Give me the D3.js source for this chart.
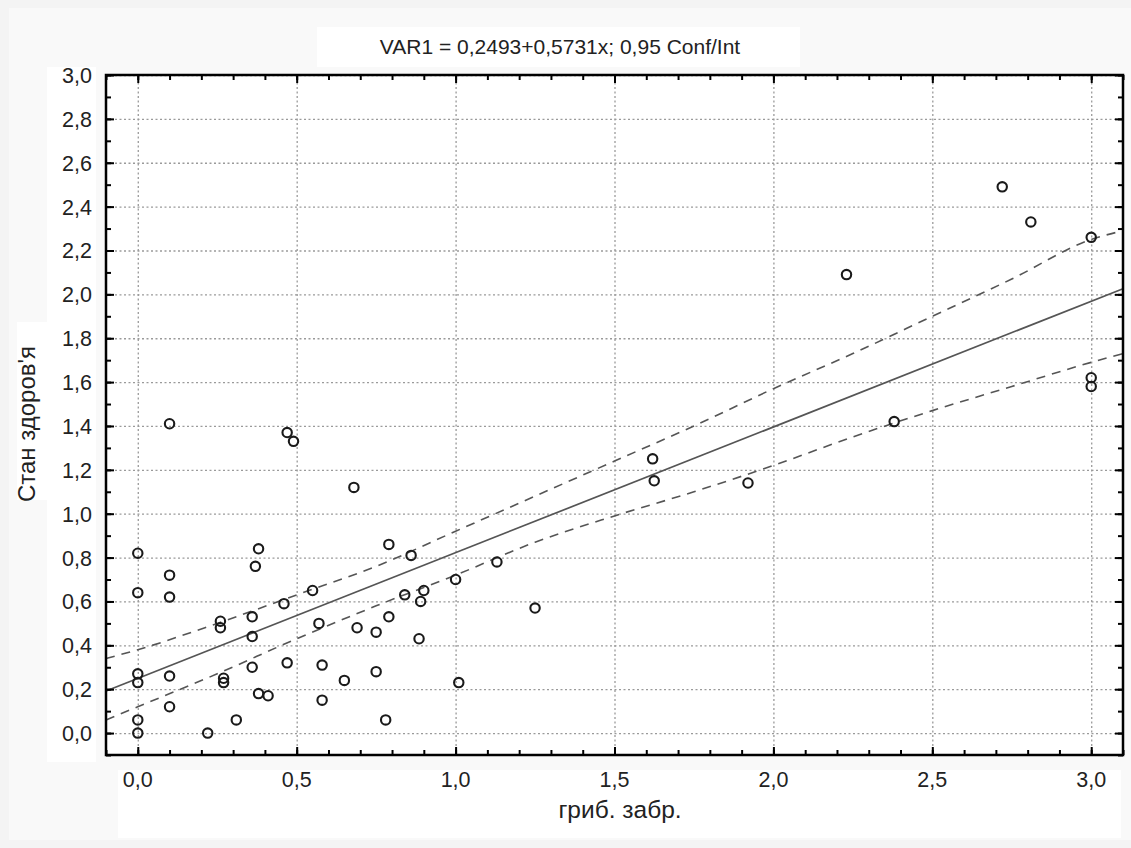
<!DOCTYPE html>
<html>
<head>
<meta charset="utf-8">
<script src="https://cdn.jsdelivr.net/npm/d3@7"></script>
<style>
  body { margin: 0; background: #f6f6f6; }
  svg { display: block; font-family: "Liberation Sans", Arial, sans-serif; }
</style>
</head>
<body>
<svg id="chart" width="1131" height="848"></svg>
<script>
// observed points (гриб. забр. / Стан здоров'я)
const xVals = [0, 0, 0, 0, 0, 0,
    0.1, 0.1, 0.1, 0.1, 0.1,
    0.22, 0.26, 0.26, 0.27, 0.27, 0.31,
    0.36, 0.36, 0.36, 0.37, 0.38, 0.38, 0.41,
    0.46, 0.47, 0.47, 0.49, 0.55, 0.57, 0.58, 0.58,
    0.65, 0.68, 0.69, 0.75, 0.75, 0.78, 0.79, 0.79,
    0.84, 0.86, 0.89, 0.9, 0.885, 1.0, 1.01, 1.13, 1.25,
    1.62, 1.625, 1.92, 2.23, 2.38, 2.72, 2.81, 3.0, 3.0, 3.0];
const yVals = [0.82, 0.64, 0.27, 0.23, 0.06, 0.0,
    1.41, 0.72, 0.62, 0.26, 0.12,
    0.0, 0.51, 0.48, 0.25, 0.23, 0.06,
    0.53, 0.44, 0.30, 0.76, 0.84, 0.18, 0.17,
    0.59, 0.32, 1.37, 1.33, 0.65, 0.50, 0.31, 0.15,
    0.24, 1.12, 0.48, 0.46, 0.28, 0.06, 0.86, 0.53,
    0.63, 0.81, 0.60, 0.65, 0.43, 0.70, 0.23, 0.78, 0.57,
    1.25, 1.15, 1.14, 2.09, 1.42, 2.49, 2.33, 2.26, 1.62, 1.58];

// regression VAR1 = 0,2493 + 0,5731x
const intercept = 0.2493;
const slope = 0.5731;

// 0,95 confidence band
const bandX     = [-0.1, 0, 0.25, 0.5, 0.75, 1.0, 1.25, 1.5, 1.75, 2.0, 2.25, 2.5, 2.75, 3.0, 3.1];
const bandUpper = [0.34, 0.38, 0.50, 0.63, 0.76, 0.92, 1.08, 1.24, 1.40, 1.57, 1.73, 1.90, 2.07, 2.25, 2.29];
const bandLower = [0.06, 0.12, 0.27, 0.43, 0.58, 0.72, 0.87, 0.99, 1.10, 1.22, 1.35, 1.47, 1.58, 1.69, 1.73];

const xTicks = [0, 0.5, 1.0, 1.5, 2.0, 2.5, 3.0];
const yTicks = [0, 0.2, 0.4, 0.6, 0.8, 1.0, 1.2, 1.4, 1.6, 1.8, 2.0, 2.2, 2.4, 2.6, 2.8, 3.0];
const xMinor = d3.range(-0.1, 3.11, 0.1);
const yMinor = d3.range(-0.1, 3.01, 0.1);

const title = "VAR1 = 0,2493+0,5731x; 0,95 Conf/Int";
const xLabel = "гриб. забр.";
const yLabel = "Стан здоров'я";

const plotLeft = 106, plotRight = 1123, plotTop = 75, plotBottom = 755;
const w = plotRight - plotLeft, h = plotBottom - plotTop;

const locale = d3.formatLocale({decimal: ",", thousands: " ", grouping: [3], currency: ["", ""]});
const fmt = locale.format(".1f");

const svg = d3.select("#chart");

// scanned page background patches
svg.append("rect").attr("x", 0).attr("y", 0).attr("width", 1131).attr("height", 848).attr("fill", "#f4f4f4");
svg.append("rect").attr("x", 9).attr("y", 8).attr("width", 1122).attr("height", 832).attr("fill", "#f9f9f9");
svg.append("rect").attr("x", 317).attr("y", 27).attr("width", 483).attr("height", 40).attr("fill", "#fff");
svg.append("rect").attr("x", 47).attr("y", 67).attr("width", 49).attr("height", 695).attr("fill", "#fff");
svg.append("rect").attr("x", 17).attr("y", 322).attr("width", 30).attr("height", 178).attr("fill", "#fff");
svg.append("rect").attr("x", 118).attr("y", 770).attr("width", 1003).attr("height", 68).attr("fill", "#fff");

const x = d3.scaleLinear().domain([-0.1, 3.1]).range([plotLeft, plotRight]);
const y = d3.scaleLinear().domain([-0.1, 3.0]).range([plotBottom, plotTop]);

const g = svg.append("g");
g.append("rect").attr("x", plotLeft).attr("y", plotTop).attr("width", w).attr("height", h).attr("fill", "#fff");

// grid
g.append("g").attr("transform", `translate(0,${plotBottom})`)
    .call(d3.axisBottom(x).tickValues(xTicks).tickSize(-h).tickFormat(""))
    .call(a => a.select(".domain").remove())
    .selectAll("line").attr("stroke", "#9a9a9a").attr("stroke-width", 1.3).attr("stroke-dasharray", "2,2.5");
g.append("g").attr("transform", `translate(${plotLeft},0)`)
    .call(d3.axisLeft(y).tickValues(yTicks).tickSize(-w).tickFormat(""))
    .call(a => a.select(".domain").remove())
    .selectAll("line").attr("stroke", "#9a9a9a").attr("stroke-width", 1.3).attr("stroke-dasharray", "2,2.5");

// confidence band and fit
const bandLine = d3.line().x(d => x(d[0])).y(d => y(d[1])).curve(d3.curveMonotoneX);
const upperPts = bandX.map((v, i) => [v, bandUpper[i]]);
const lowerPts = bandX.map((v, i) => [v, bandLower[i]]);
[upperPts, lowerPts].forEach(pts => {
    g.append("path")
        .attr("d", bandLine(pts))
        .attr("fill", "none")
        .attr("stroke", "#555")
        .attr("stroke-width", 1.6)
        .attr("stroke-dasharray", "9,7");
});
g.append("line")
    .attr("x1", x(-0.1)).attr("y1", y(intercept + slope * -0.1))
    .attr("x2", x(3.1)).attr("y2", y(intercept + slope * 3.1))
    .attr("stroke", "#555").attr("stroke-width", 1.7);

// points
g.selectAll("circle.pt").data(xVals).enter().append("circle")
    .attr("class", "pt")
    .attr("cx", d => x(d))
    .attr("cy", (d, i) => y(yVals[i]))
    .attr("r", 4.7)
    .attr("fill", "none")
    .attr("stroke", "#1a1a1a")
    .attr("stroke-width", 2.1);

// inward ticks on all four sides
function ticks(axis, transform, vals, size) {
    g.append("g").attr("transform", transform)
        .call(axis.tickValues(vals).tickSize(size).tickFormat(""))
        .call(a => a.select(".domain").remove())
        .selectAll("line").attr("stroke", "#000").attr("stroke-width", 2);
}
ticks(d3.axisBottom(x), `translate(0,${plotBottom})`, xMinor, -5);
ticks(d3.axisTop(x), `translate(0,${plotTop})`, xMinor, -5);
ticks(d3.axisLeft(y), `translate(${plotLeft},0)`, yMinor, -5);
ticks(d3.axisRight(y), `translate(${plotRight},0)`, yMinor, -5);
ticks(d3.axisBottom(x), `translate(0,${plotBottom})`, xTicks, -8);
ticks(d3.axisTop(x), `translate(0,${plotTop})`, xTicks, -8);
ticks(d3.axisLeft(y), `translate(${plotLeft},0)`, yTicks, -8);
ticks(d3.axisRight(y), `translate(${plotRight},0)`, yTicks, -8);

// frame
g.append("rect").attr("x", plotLeft).attr("y", plotTop).attr("width", w).attr("height", h)
    .attr("fill", "none").attr("stroke", "#000").attr("stroke-width", 2.5);

// tick labels
svg.append("g").selectAll("text").data(xTicks).enter().append("text")
    .attr("x", d => x(d)).attr("y", 787)
    .attr("text-anchor", "middle").attr("font-size", 21.5).attr("fill", "#222")
    .text(d => fmt(d));
svg.append("g").selectAll("text").data(yTicks).enter().append("text")
    .attr("x", 92).attr("y", d => y(d) + 8)
    .attr("text-anchor", "end").attr("font-size", 21.5).attr("fill", "#222")
    .text(d => fmt(d));

// titles
svg.append("text").attr("x", 560).attr("y", 54).attr("text-anchor", "middle")
    .attr("font-size", 21).attr("fill", "#222").text(title);
svg.append("text").attr("x", 620).attr("y", 818).attr("text-anchor", "middle")
    .attr("font-size", 24.5).attr("fill", "#222").text(xLabel);
svg.append("text").attr("transform", "translate(35,424) rotate(-90)").attr("text-anchor", "middle")
    .attr("font-size", 24).attr("fill", "#222").text(yLabel);
</script>
</body>
</html>
